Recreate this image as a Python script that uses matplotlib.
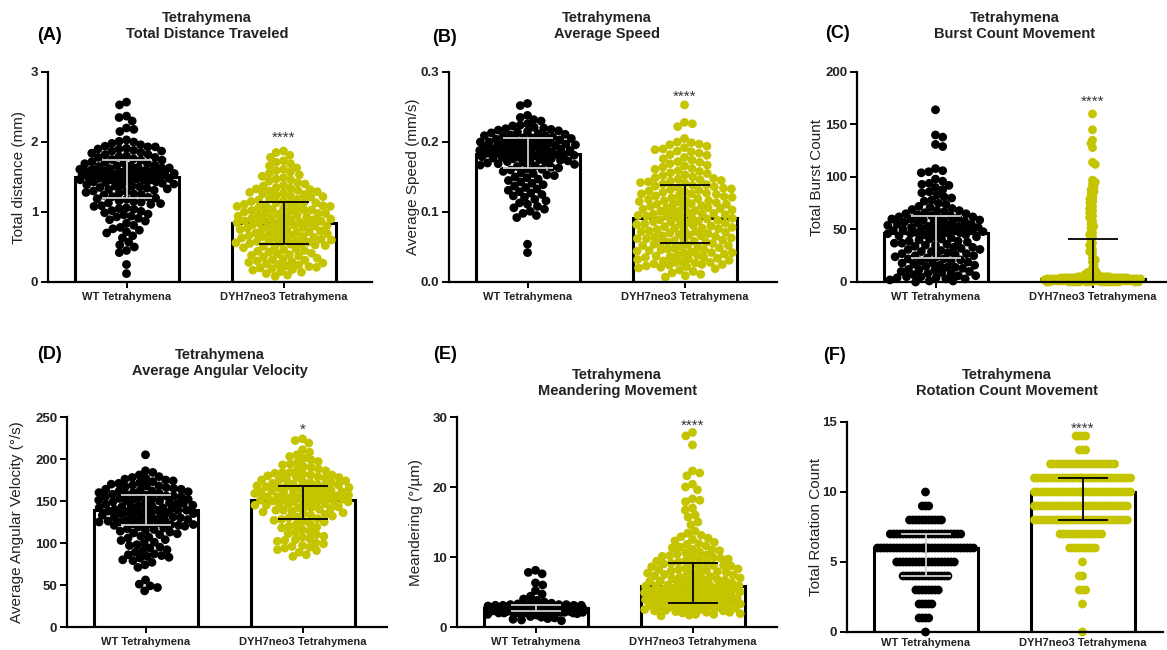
"""Tetrahymena motility: WT vs DYH7neo3 across six tracking metrics."""

import numpy as np
import matplotlib

matplotlib.use("Agg")
from matplotlib import pyplot as plt

plt.rcParams["font.family"] = ["Liberation Sans", "DejaVu Sans"]

GROUPS = ["WT Tetrahymena", "DYH7neo3 Tetrahymena"]

# ---------------------------------------------------------------- data
# (A) total distance traveled, mm
DIST_WT = [
    2.57, 2.53, 2.37, 2.35, 2.30, 2.20, 2.18, 2.15,
    2.03, 2.01, 2.00, 1.98, 1.96,
    1.94, 1.93, 1.93, 1.91, 1.90, 1.90, 1.88, 1.87, 1.87, 1.85, 1.84, 1.82,
    1.82, 1.80, 1.79, 1.78, 1.78, 1.76, 1.75, 1.74, 1.74, 1.72, 1.71, 1.70,
    1.69, 1.69, 1.67, 1.66, 1.66, 1.65,
    1.64, 1.63, 1.63, 1.62, 1.61, 1.61, 1.60, 1.59, 1.59, 1.58, 1.58, 1.57,
    1.57, 1.56, 1.56, 1.55, 1.55, 1.55, 1.54, 1.54, 1.53, 1.53, 1.52, 1.52,
    1.52, 1.51, 1.51, 1.50, 1.50, 1.49, 1.49, 1.48, 1.48, 1.47, 1.47, 1.46,
    1.46, 1.45, 1.45, 1.44, 1.43, 1.43, 1.42, 1.41, 1.40,
    1.39, 1.38, 1.37, 1.37, 1.36, 1.35, 1.34, 1.33, 1.32, 1.31, 1.30, 1.29,
    1.28, 1.27, 1.26, 1.25, 1.24, 1.22, 1.21, 1.20,
    1.19, 1.18, 1.16, 1.15, 1.14, 1.13, 1.12, 1.11, 1.09, 1.08, 1.06, 1.05,
    1.04, 1.02, 1.01,
    0.99, 0.97, 0.96, 0.94, 0.93, 0.91, 0.89, 0.87,
    0.84, 0.81, 0.78, 0.76, 0.74, 0.72, 0.70, 0.66, 0.63,
    0.57, 0.53, 0.50, 0.45, 0.42, 0.25, 0.12,
]
DIST_MUT = [
    1.87, 1.85, 1.81, 1.78, 1.73, 1.71, 1.69, 1.66,
    1.63, 1.61, 1.59, 1.57, 1.55, 1.53, 1.51, 1.49, 1.47, 1.46, 1.44, 1.42,
    1.40, 1.38, 1.37, 1.35, 1.34, 1.33, 1.32, 1.31,
    1.30, 1.29, 1.28, 1.27, 1.26, 1.25, 1.24, 1.23, 1.22, 1.21, 1.19, 1.18,
    1.17, 1.16,
    1.15, 1.14, 1.13, 1.13, 1.12, 1.11, 1.10, 1.09, 1.08, 1.08, 1.07, 1.06,
    1.05, 1.04, 1.03, 1.03, 1.02, 1.01, 1.00, 0.99, 0.98, 0.98, 0.97, 0.96,
    0.95, 0.94, 0.93, 0.93, 0.92, 0.91, 0.90, 0.89, 0.89, 0.88, 0.87, 0.87,
    0.86, 0.86, 0.85, 0.85, 0.84,
    0.83, 0.83, 0.82, 0.81, 0.80, 0.80, 0.79, 0.78, 0.77, 0.77, 0.76, 0.75,
    0.74, 0.73, 0.73, 0.72, 0.71, 0.70, 0.69, 0.69, 0.68, 0.67, 0.66, 0.65,
    0.65, 0.64, 0.63, 0.62, 0.61, 0.61, 0.60, 0.59, 0.58, 0.58, 0.57, 0.56,
    0.56, 0.55, 0.55, 0.54,
    0.53, 0.52, 0.51, 0.50, 0.49, 0.47, 0.46, 0.45, 0.44, 0.43, 0.41, 0.40,
    0.39, 0.38, 0.37, 0.36, 0.34, 0.33, 0.32, 0.31, 0.30, 0.29, 0.28, 0.27,
    0.26, 0.25, 0.24, 0.23, 0.22, 0.21, 0.20,
    0.19, 0.18, 0.17, 0.15, 0.14, 0.12, 0.10, 0.08,
]

# (B) average speed, mm/s
SPEED_WT = [
    0.255, 0.252, 0.238, 0.235, 0.232, 0.230,
    0.226, 0.224, 0.223, 0.221, 0.220,
    0.219, 0.218, 0.217, 0.216, 0.215, 0.214, 0.213, 0.212, 0.211,
    0.210, 0.209, 0.209, 0.208, 0.207, 0.206, 0.206, 0.205, 0.204, 0.203,
    0.203, 0.202, 0.201, 0.200,
    0.200, 0.199, 0.199, 0.198, 0.198, 0.197, 0.196, 0.196, 0.195, 0.195,
    0.194, 0.193, 0.193, 0.192, 0.192, 0.191, 0.190, 0.190,
    0.189, 0.189, 0.188, 0.188, 0.187, 0.186, 0.186, 0.185, 0.185, 0.184,
    0.184, 0.183, 0.182, 0.182, 0.181, 0.181, 0.180, 0.180,
    0.179, 0.178, 0.178, 0.177, 0.176, 0.176, 0.175, 0.174, 0.173, 0.173,
    0.172, 0.171, 0.171, 0.170,
    0.169, 0.168, 0.167, 0.166, 0.165, 0.164, 0.163, 0.162, 0.161, 0.160,
    0.158, 0.156, 0.155, 0.153, 0.152, 0.150,
    0.149, 0.147, 0.145, 0.143, 0.141, 0.139, 0.137, 0.135, 0.133, 0.131,
    0.129, 0.127, 0.125, 0.123, 0.121, 0.118, 0.116, 0.113, 0.111,
    0.108, 0.106, 0.104, 0.101, 0.098, 0.095, 0.092,
    0.054, 0.042,
]
SPEED_MUT = [
    0.253, 0.228, 0.226, 0.222, 0.205,
    0.200, 0.199, 0.197, 0.196, 0.194, 0.192, 0.190,
    0.189, 0.187, 0.186, 0.184, 0.182, 0.181,
    0.178, 0.176, 0.174, 0.172, 0.171,
    0.169, 0.167, 0.166, 0.164, 0.162, 0.161,
    0.159, 0.158, 0.156, 0.155, 0.153, 0.152, 0.150,
    0.149, 0.148, 0.147, 0.146, 0.145, 0.144, 0.143, 0.142, 0.141,
    0.140, 0.139, 0.138, 0.137, 0.136, 0.135, 0.134, 0.133, 0.132, 0.131,
    0.130, 0.129, 0.128, 0.127, 0.126, 0.126, 0.125, 0.124, 0.123, 0.122,
    0.121, 0.120,
    0.119, 0.118, 0.117, 0.116, 0.116, 0.115, 0.114, 0.113, 0.112, 0.111,
    0.111, 0.110,
    0.109, 0.108, 0.107, 0.106, 0.106, 0.105, 0.104, 0.103, 0.102, 0.101,
    0.101, 0.100,
    0.099, 0.098, 0.097, 0.097, 0.096, 0.095, 0.094, 0.094, 0.093, 0.092,
    0.091, 0.091, 0.090,
    0.089, 0.088, 0.087, 0.086, 0.086, 0.085, 0.084, 0.083, 0.082, 0.082,
    0.081, 0.080,
    0.079, 0.078, 0.077, 0.077, 0.076, 0.075, 0.074, 0.073, 0.072, 0.072,
    0.071, 0.070,
    0.069, 0.068, 0.067, 0.066, 0.066, 0.065, 0.064, 0.063, 0.062, 0.062,
    0.061, 0.060,
    0.059, 0.058, 0.057, 0.057, 0.056, 0.055, 0.054, 0.053, 0.052, 0.052,
    0.051, 0.050,
    0.049, 0.048, 0.047, 0.046, 0.046, 0.045, 0.044, 0.043, 0.042, 0.042,
    0.041, 0.040,
    0.039, 0.038, 0.037, 0.036, 0.035, 0.035, 0.034, 0.033, 0.032, 0.031,
    0.030,
    0.029, 0.028, 0.028, 0.027, 0.026, 0.025, 0.025, 0.024, 0.023, 0.022,
    0.021, 0.020,
    0.019, 0.017, 0.015, 0.013, 0.011, 0.009, 0.007,
]

# (C) burst count
BURST_WT = [
    164, 140, 138, 131, 129, 108, 106, 105, 104, 98, 96, 94, 93, 92, 90, 88,
    86, 85, 83, 81, 80, 78, 77, 75, 74, 72, 71,
    70, 69, 68, 68, 67, 66, 65, 65, 64, 63,
    63, 62, 62, 61, 61, 60, 60, 59, 59, 58, 58, 57, 57, 56, 56, 55, 55, 54,
    54, 53, 53, 52, 52, 52, 51, 51, 50, 50, 50, 49, 49, 48, 48, 48, 47, 47, 47,
    46, 46, 45, 45, 44, 43, 43, 42, 41, 41, 40, 39, 39, 38, 37, 37, 36, 35,
    35, 34, 33, 33, 32, 31, 31, 30, 29, 29, 28, 27, 27, 26, 25, 25, 24, 24, 23,
    22, 22, 21, 20, 20, 19, 18, 18, 17, 16, 16, 15, 14, 14, 13, 12, 12, 11,
    10, 10, 9, 8, 8, 7, 6, 6, 5, 5, 4, 4, 3, 3, 2, 1, 1, 0,
]
BURST_MUT = [
    160, 145, 135, 132, 128, 114, 112,
    97, 95, 93, 90, 88, 86, 84, 81, 79, 77, 75, 72, 70, 68, 66, 63, 61, 58,
    55, 53, 51, 47, 45, 43, 40, 37, 35, 31, 29, 27, 23, 21, 19, 16, 13, 11,
    10, 9, 8, 8, 7, 6,
    5, 5, 5, 5, 5, 5, 5, 5,
    4, 4, 4, 4, 4, 4, 4, 4, 4, 4,
    3, 3, 3, 3, 3, 3, 3, 3, 3, 3, 3, 3,
    2, 2, 2, 2, 2, 2, 2, 2, 2, 2, 2, 2,
    1, 1, 1, 1, 1, 1, 1, 1, 1, 1, 1, 1,
    0, 0, 0, 0, 0, 0, 0, 0, 0, 0, 0, 0, 0, 0, 0, 0,
]

# (D) average angular velocity, deg/s
ANGVEL_WT = [
    205, 186, 184, 181,
    179, 178, 177, 176, 175, 174, 173, 172, 171, 170, 169, 168, 168, 167, 166,
    165,
    164, 164, 163, 162, 162, 161, 160, 160, 159, 158, 158, 157,
    156, 156, 155, 155, 154, 153, 153, 152, 152, 151, 150, 150, 149, 148, 148,
    147, 147, 146, 145, 145, 144, 143, 143, 142, 142, 141, 140, 140, 139, 139,
    139,
    138, 138, 137, 136, 136, 135, 135, 134, 133, 133, 132, 131, 131, 130, 130,
    129, 128, 128, 127, 127, 126, 125, 125, 124, 124, 123, 123, 122, 122, 121,
    121,
    120, 119, 118, 117, 116, 115, 114, 113, 112, 111, 110, 108, 107, 106,
    104, 103, 101, 100, 98, 97, 95, 94, 92, 91,
    89, 87, 86, 85, 84, 83, 82, 80, 79, 77, 74, 71,
    56, 51, 49, 47, 43,
]
ANGVEL_MUT = [
    224, 222, 219, 211, 208, 205, 203, 201,
    199, 197, 196, 194, 193, 191, 190, 188, 187, 186,
    184, 184, 183, 182, 181, 181, 180, 179, 178, 178, 177, 176, 175, 175, 174,
    173, 172, 172, 171, 170, 170, 169, 168, 168,
    167, 167, 166, 166, 165, 165, 164, 163, 163, 162, 162, 161, 160, 160, 159,
    159, 158, 157, 157, 156, 156, 155, 155, 154, 154, 153, 153, 152, 152, 151,
    151, 151, 150, 150,
    149, 149, 148, 147, 147, 146, 145, 145, 144, 143, 142, 142, 141, 140, 139,
    139, 138, 137, 136, 135, 134, 133, 132, 131, 130, 129, 128,
    127, 126, 125, 123, 122, 120, 119, 118, 116, 114, 113, 111, 110, 108, 107,
    105, 104, 103, 102, 100,
    99, 97, 96, 95, 94, 92, 91, 89, 86, 84,
]

# (E) meandering, deg/um
MEANDER_WT = [
    8.1, 7.8, 7.6,
    6.3, 6.0, 5.2, 4.7,
    4.4, 4.0, 3.8, 3.6,
    3.4, 3.3, 3.3, 3.2, 3.2, 3.2, 3.1, 3.1, 3.1, 3.1, 3.0, 3.0,
    3.0, 3.0, 3.0, 2.9, 2.9, 2.9, 2.9, 2.9, 2.8, 2.8, 2.8, 2.8, 2.8, 2.8,
    2.7, 2.7, 2.7, 2.7, 2.7, 2.7, 2.7, 2.6, 2.6, 2.6, 2.6, 2.6, 2.6, 2.6,
    2.5, 2.5, 2.5, 2.5, 2.5, 2.5, 2.4, 2.4, 2.4, 2.4, 2.4, 2.4, 2.4,
    2.3, 2.3, 2.3, 2.3, 2.3, 2.3, 2.2, 2.2, 2.2, 2.2, 2.2, 2.2,
    2.1, 2.1, 2.1, 2.1, 2.1, 2.1, 2.0, 2.0, 2.0, 2.0, 2.0,
    1.9, 1.8, 1.7, 1.5, 1.4, 1.3, 1.2, 1.1, 1.0, 0.9,
]
MEANDER_MUT = [
    27.8, 27.3, 26.0, 22.3, 22.0, 21.6, 20.4, 20.0, 19.6, 18.3, 18.1, 17.9,
    17.0, 16.7, 16.0, 15.7, 15.0, 14.6,
    13.7, 13.4, 13.1, 12.9, 12.7, 12.5, 12.3, 12.1,
    11.9, 11.8, 11.6, 11.4, 11.3, 11.1, 11.0,
    10.9, 10.7, 10.6, 10.4, 10.3, 10.2, 10.1, 10.0,
    9.9, 9.8, 9.7, 9.6, 9.5, 9.4, 9.3, 9.2, 9.1, 9.0,
    8.9, 8.8, 8.8, 8.7, 8.6, 8.5, 8.4, 8.3, 8.2, 8.2, 8.1, 8.0,
    7.9, 7.8, 7.8, 7.7, 7.6, 7.5, 7.4, 7.4, 7.3, 7.2, 7.1, 7.0, 7.0,
    6.9, 6.8, 6.8, 6.7, 6.6, 6.5, 6.5, 6.4, 6.3, 6.2, 6.2, 6.1, 6.0, 6.0,
    5.9, 5.9, 5.8, 5.8, 5.7, 5.6, 5.6, 5.5, 5.5, 5.4, 5.3, 5.3, 5.2, 5.2,
    5.1, 5.0, 5.0, 5.0,
    4.9, 4.9, 4.8, 4.8, 4.7, 4.7, 4.6, 4.5, 4.5, 4.4, 4.4, 4.3, 4.3, 4.2,
    4.2, 4.1, 4.1, 4.0, 4.0, 4.0,
    3.9, 3.9, 3.9, 3.8, 3.8, 3.7, 3.7, 3.6, 3.6, 3.5, 3.5, 3.5, 3.4, 3.4,
    3.3, 3.3, 3.2, 3.2, 3.1, 3.1, 3.0, 3.0,
    2.9, 2.9, 2.8, 2.8, 2.7, 2.6, 2.6, 2.5, 2.5, 2.4, 2.3, 2.3, 2.2, 2.1,
    2.1, 2.0,
    1.9, 1.8, 1.8, 1.7, 1.6,
]

# (F) rotation count: integer levels and how many cells sit on each
ROT_WT_LEVELS = [0, 1, 2, 3, 4, 5, 6, 7, 8, 9, 10]
ROT_WT_COUNTS = [1, 4, 5, 8, 15, 19, 33, 23, 11, 3, 1]
ROT_MUT_LEVELS = [0, 1, 2, 3, 4, 5, 6, 7, 8, 9, 10, 11, 12, 13, 14]
ROT_MUT_COUNTS = [1, 0, 1, 3, 2, 1, 9, 14, 30, 30, 32, 32, 21, 3, 4]
ROT_WT = np.repeat(ROT_WT_LEVELS, ROT_WT_COUNTS)
ROT_MUT = np.repeat(ROT_MUT_LEVELS, ROT_MUT_COUNTS)

# bar = median, whiskers = interquartile range (WT, DYH7neo3)
MEDIANS = {
    "A": [1.50, 0.84], "B": [0.183, 0.092], "C": [47, 3],
    "D": [139, 151], "E": [2.7, 5.8], "F": [6, 10],
}
Q1 = {
    "A": [1.20, 0.54], "B": [0.163, 0.055], "C": [23, 0],
    "D": [121, 128], "E": [2.3, 3.5], "F": [4, 8],
}
Q3 = {
    "A": [1.75, 1.15], "B": [0.205, 0.139], "C": [63, 41],
    "D": [157, 168], "E": [3.1, 9.1], "F": [7, 11],
}
SIGNIF = {"A": "****", "B": "****", "C": "****", "D": "*", "E": "****", "F": "****"}

# ---------------------------------------------------------------- layout
W, H = 1167, 650
PX_PER_GROUP = 157.0          # pixels between the two bar centres
BAR_WIDTH = 104 / PX_PER_GROUP
CAP = 25 / PX_PER_GROUP       # half width of whisker caps
SWARM_LIMIT = 48.0            # max horizontal spread of dots, px
DOT_S = 40
WT_COLOR = "black"
MUT_COLOR = "#c4c400"
TEXT = "#222222"

PANELS = [
    dict(key="A", data=(DIST_WT, DIST_MUT),
         title="Tetrahymena\nTotal Distance Traveled", ylabel="Total distance (mm)",
         yticks=[0, 1, 2, 3], fmt="{:.0f}", star_y=2.06,
         box=(48, 72, 372, 282), title_xy=(207, 26), tag_xy=(49, 35),
         ylabel_x=19, gap=(7.5, 7.5)),
    dict(key="B", data=(SPEED_WT, SPEED_MUT),
         title="Tetrahymena\nAverage Speed", ylabel="Average Speed (mm/s)",
         yticks=[0.0, 0.1, 0.2, 0.3], fmt="{:.1f}", star_y=0.265,
         box=(449, 72, 777, 282), title_xy=(607, 26), tag_xy=(445, 37),
         ylabel_x=413, gap=(7.5, 8.0)),
    dict(key="C", data=(BURST_WT, BURST_MUT),
         title="Tetrahymena\nBurst Count Movement", ylabel="Total Burst Count",
         yticks=[0, 50, 100, 150, 200], fmt="{:.0f}", star_y=172,
         box=(857, 72, 1166, 282), title_xy=(1015, 26), tag_xy=(838, 34),
         ylabel_x=817, gap=(7.5, 3.5)),
    dict(key="D", data=(ANGVEL_WT, ANGVEL_MUT),
         title="Tetrahymena\nAverage Angular Velocity",
         ylabel="Average Angular Velocity (°/s)",
         yticks=[0, 50, 100, 150, 200, 250], fmt="{:.0f}", star_y=235,
         box=(67, 417, 387, 627), title_xy=(220, 363), tag_xy=(50, 355),
         ylabel_x=17, gap=(7.5, 7.5)),
    dict(key="E", data=(MEANDER_WT, MEANDER_MUT),
         title="Tetrahymena\nMeandering Movement", ylabel="Meandering (°/µm)",
         yticks=[0, 10, 20, 30], fmt="{:.0f}", star_y=28.8,
         box=(457, 417, 777, 627), title_xy=(617, 383), tag_xy=(445, 355),
         ylabel_x=416, gap=(7.5, 7.5)),
    dict(key="F", data=(ROT_WT, ROT_MUT),
         title="Tetrahymena\nRotation Count Movement", ylabel="Total Rotation Count",
         yticks=[0, 5, 10, 15], fmt="{:.0f}", star_y=14.5,
         box=(847, 422, 1163, 632), title_xy=(1007, 383), tag_xy=(834, 356),
         ylabel_x=816, gap=(3.2, 3.2), xtick_pad=1.0),
]


def swarm_offsets(values, px_per_unit, gap, limit=SWARM_LIMIT):
    """Bee-swarm x offsets in px; rows that overflow the bar get squeezed."""
    ys = np.asarray(values, dtype=float) * px_per_unit
    xs = np.zeros(len(ys))
    placed = np.zeros(len(ys), dtype=bool)
    side = 1.0
    for i in np.argsort(-ys, kind="stable"):
        near = placed & (np.abs(ys - ys[i]) < gap)
        near_y = ys[near]
        near_x = xs[near]
        pos = None
        for squeeze in (1.0, 0.85, 0.7, 0.55, 0.42, 0.3, 0.2):
            c = gap * squeeze
            dy = np.abs(near_y - ys[i])
            keep = dy < c
            dx = np.sqrt(c * c - dy[keep] ** 2)
            lo = near_x[keep] - dx
            hi = near_x[keep] + dx
            cands = np.concatenate(([0.0], lo, hi))
            cands = cands[np.abs(cands) <= limit + 1e-9]
            if cands.size == 0:
                continue
            blocked = ((cands[:, None] > lo[None, :] + 1e-6)
                       & (cands[:, None] < hi[None, :] - 1e-6)).any(axis=1)
            free = cands[~blocked]
            if free.size:
                order = np.lexsort((-side * free, np.round(np.abs(free), 6)))
                pos = free[order[0]]
                break
        xs[i] = 0.0 if pos is None else pos
        placed[i] = True
        side = -side
    return xs


def draw_panel(fig, spec):
    left, top, right, bottom = spec["box"]
    ax = fig.add_axes([left / W, 1 - bottom / H, (right - left) / W, (bottom - top) / H])
    key = spec["key"]
    ymax = spec["yticks"][-1]
    ax.set_xlim(-0.5, -0.5 + (right - left) / PX_PER_GROUP)
    ax.set_ylim(0, ymax)
    px_per_unit = (bottom - top) / ymax

    ax.bar([0, 1], MEDIANS[key], width=BAR_WIDTH, color="white",
           edgecolor="black", linewidth=2.2, zorder=1)

    for k, (values, color) in enumerate(zip(spec["data"], (WT_COLOR, MUT_COLOR))):
        offsets = swarm_offsets(values, px_per_unit, spec["gap"][k])
        ax.scatter(k + offsets / PX_PER_GROUP, values, s=DOT_S, color=color,
                   edgecolors="none", zorder=2, clip_on=False)
        wcolor = "#cfcfcf" if k == 0 else "black"
        lo, hi = Q1[key][k], Q3[key][k]
        ax.vlines(k, lo, hi, color=wcolor, linewidth=1.3, zorder=3)
        ax.hlines([lo, hi], k - CAP, k + CAP, color=wcolor, linewidth=1.3, zorder=3)

    ax.text(1, spec["star_y"], SIGNIF[key], ha="center", va="center",
            fontsize=11, color="#333333")

    for side in ("top", "right"):
        ax.spines[side].set_visible(False)
    for side in ("left", "bottom"):
        ax.spines[side].set_linewidth(1.6)
        ax.spines[side].set_zorder(4)

    ax.set_yticks(spec["yticks"], [spec["fmt"].format(t) for t in spec["yticks"]],
                  fontsize=9.5, fontweight="bold", color=TEXT)
    ax.set_xticks([0, 1], GROUPS, fontsize=8, fontweight="bold", color=TEXT)
    ax.tick_params(axis="y", length=5, width=1.4, pad=2)
    ax.tick_params(axis="x", length=4 if "xtick_pad" not in spec else 3,
                   width=1.4, pad=spec.get("xtick_pad", 3))

    cy = (top + bottom) / 2
    fig.text(spec["ylabel_x"] / W, 1 - cy / H, spec["ylabel"], rotation=90,
             ha="center", va="center", fontsize=11, color=TEXT)
    tx, ty = spec["title_xy"]
    fig.text(tx / W, 1 - ty / H, spec["title"], ha="center", va="center",
             fontsize=10.5, fontweight="bold", color=TEXT, linespacing=1.2)
    gx, gy = spec["tag_xy"]
    fig.text(gx / W, 1 - gy / H, f"({key})", ha="center", va="center",
             fontsize=13, fontweight="bold", color="black")


def main():
    fig = plt.figure(figsize=(W / 100, H / 100), dpi=100)
    for spec in PANELS:
        draw_panel(fig, spec)
    fig.savefig("out.png", dpi=100)
    plt.close(fig)


if __name__ == "__main__":
    main()
